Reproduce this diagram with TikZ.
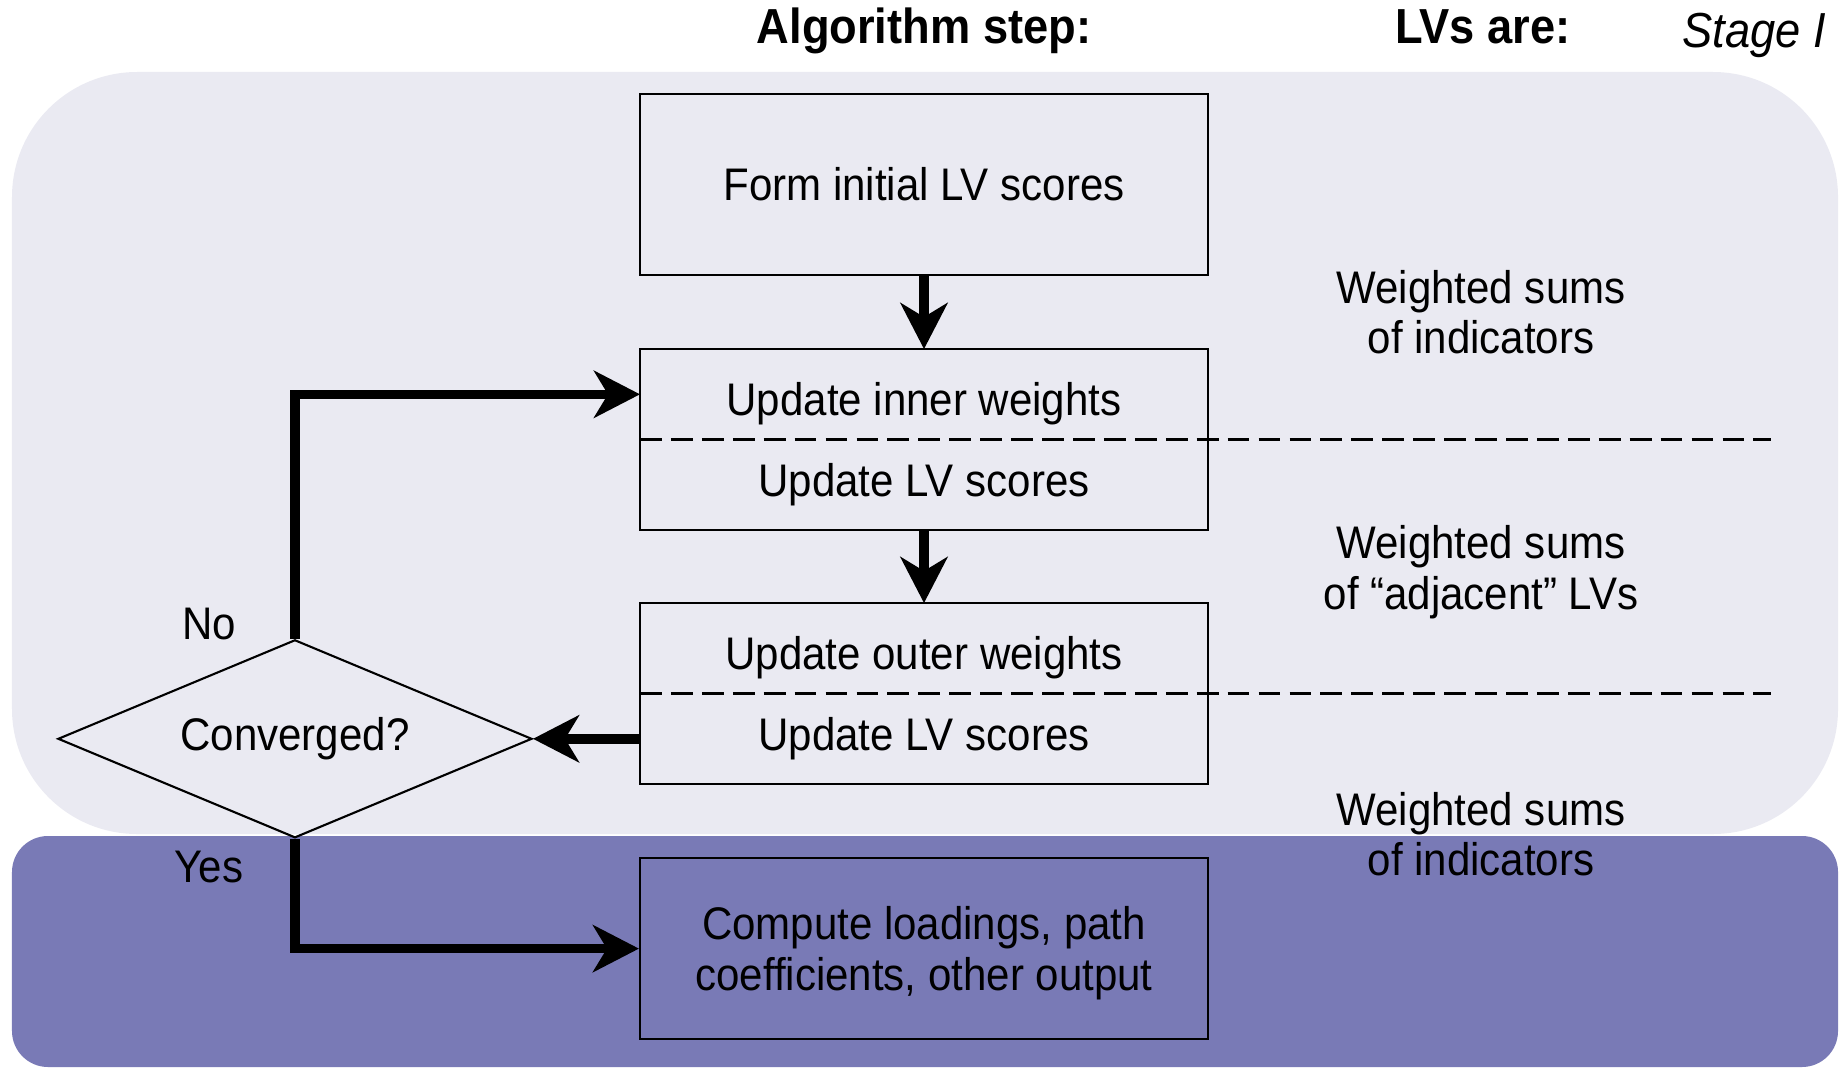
\documentclass[tikz,border=0pt]{standalone}
\usepackage{fontspec}
\setmainfont{Liberation Sans}[FakeStretch=0.92]
\usetikzlibrary{positioning,shapes.geometric,arrows.meta}
\definecolor{stageone}{RGB}{234,234,242}
\definecolor{stagetwo}{RGB}{121,122,182}

\begin{document}
\begin{tikzpicture}[node distance={7.3mm},
    stepbox/.style = {draw, line width=0.6pt, minimum width=56.8mm, minimum height=18.1mm, inner sep=0pt, align=center, font=\fontsize{13}{14.4}\selectfont},
    halfbox/.style = {minimum width=56.8mm, minimum height=9.05mm, inner sep=0pt, outer sep=0pt, font=\fontsize{13}{14.4}\selectfont},
    upperbox/.style = {halfbox, text height=14.9pt, text depth=2.7pt},
    testbox/.style = {diamond, draw, line width=0.6pt, minimum width=47.4mm, minimum height=19.8mm, aspect=2.4, inner sep=0pt, font=\fontsize{13}{14.4}\selectfont},
    sidenote/.style = {align=center, font=\fontsize{13}{14.4}\selectfont},
    header/.style = {anchor=base, inner sep=0pt, font=\fontsize{14}{16}\selectfont\bfseries},
    flowarrow/.style = {line width=2.7pt, -{Stealth[length=4.6mm, width=4.7mm, inset=1.4mm]}},
    splitline/.style = {line width=0.85pt, dash pattern=on 6.2pt off 2.6pt}]
    \useasboundingbox (0,0) rectangle (18.45,10.67);

    \fill[stageone, rounded corners=12.5mm] (0.12,2.33) rectangle (18.38,9.95);
    \fill[stagetwo, rounded corners=3.6mm] (0.12,0) rectangle (18.38,2.31);

    \node[header] (11) at (9.24,10.24) {Algorithm step:};
    \node[header] (12) at (14.83,10.24) {LVs are:};
    \node[header, font=\fontsize{14}{16}\selectfont\itshape] (13) at (17.54,10.19) {Stage I};

    \node[stepbox] (1) at (9.24,8.825) {Form initial LV scores};
    \node[upperbox] (2) [below=of 1] {Update inner weights};
    \node[halfbox] (3) [below=0mm of 2] {Update LV scores};
    \node[upperbox] (4) [below=of 3] {Update outer weights};
    \node[halfbox] (5) [below=0mm of 4] {Update LV scores};
    \node[testbox] (6) [left=10.7mm of 5] {Converged?};
    \node[stepbox, text depth=0pt] (7) [below=of 5] {Compute loadings, path\\coefficients, other output};

    \draw[line width=0.6pt] (2.north west) rectangle (3.south east);
    \draw[line width=0.6pt] (4.north west) rectangle (5.south east);

    \coordinate (dashend) at (17.71,0);
    \draw[splitline] (3.north west) -- (3.north west -| dashend);
    \draw[splitline] (5.north west) -- (5.north west -| dashend);

    \node[sidenote] (8) at (14.81,7.55) {Weighted sums\\of indicators};
    \node[sidenote] (9) at (14.81,4.95) {Weighted sums\\of “adjacent” LVs};
    \node[sidenote] (10) at (14.81,2.33) {Weighted sums\\of indicators};

    \path[flowarrow] (1) edge (2);
    \path[flowarrow] (3) edge (4);
    \path[flowarrow] (5) edge (6);
    \draw[flowarrow] (6.north) |- (2.west);
    \draw[flowarrow] (6.south) |- (7.west);

    \node[sidenote] (no) at (2.09,4.43) {No};
    \node[sidenote] (yes) at (2.09,2.00) {Yes};

\end{tikzpicture}
\end{document}
